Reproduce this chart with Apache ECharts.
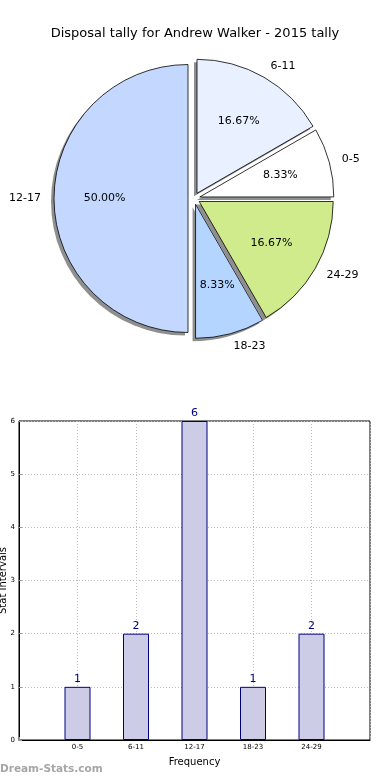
<!DOCTYPE html>
<html>
<head>
<meta charset="utf-8">
<script src="https://cdn.jsdelivr.net/npm/echarts@6/dist/echarts.min.js"></script>
<style>
html,body{margin:0;padding:0;background:#fff;}
#c{width:390px;height:780px;}
</style>
</head>
<body>
<div id="c"></div>
<script>
const titleText = 'Disposal tally for Andrew Walker - 2015 tally';
const categories = ['0-5', '6-11', '12-17', '18-23', '24-29'];
const counts = [1, 2, 6, 1, 2];
const sliceColors = ['#ffffff', '#e9f0ff', '#c4d8ff', '#b3d5ff', '#cfeb8c'];
const yTicks = [0, 1, 2, 3, 4, 5, 6];

const FONT = 'DejaVu Sans';
const R = 134;
const CX = 194, CY = 198.5;
const total = counts.reduce((a, b) => a + b, 0);

const pieData = categories.map((c, i) => ({
  name: c, value: counts[i], selected: true,
  itemStyle: { color: sliceColors[i] }
}));
const plainData = categories.map((c, i) => ({
  name: c, value: counts[i], selected: true
}));

// padded category axis so that categories sit at integer positions 0..4 inside xlim [-1, 5]
const xAxisData = [''].concat(categories, ['']);
const barData = [null].concat(counts, [null]);

const pieCommon = {
  startAngle: 0, clockwise: false,
  selectedMode: 'multiple', selectedOffset: 6,
  avoidLabelOverlap: false,
  emphasis: { disabled: true }
};

const chart = echarts.init(document.getElementById('c'), null, { renderer: 'canvas' });
chart.setOption({
  animation: false,
  backgroundColor: '#fff',
  textStyle: { fontFamily: FONT },
  title: {
    text: titleText, left: 'center', top: 22,
    textStyle: { fontFamily: FONT, fontSize: 13, fontWeight: 'normal', color: '#000' }
  },
  graphic: [{
    type: 'text', left: 0, top: 764,
    style: { text: 'Dream-Stats.com', fill: '#a6a6a6', font: 'bold 10.5px "DejaVu Sans"' }
  }],
  grid: {
    left: 19, right: 20, top: 421, bottom: 40,
    containLabel: false, outerBoundsMode: 'none',
    show: true, borderColor: '#000', borderWidth: 1
  },
  xAxis: {
    type: 'category', data: xAxisData, boundaryGap: false,
    name: 'Frequency', nameLocation: 'middle', nameGap: 17, nameMoveOverlap: false,
    nameTextStyle: { fontFamily: FONT, fontSize: 10, color: '#000' },
    axisLine: { lineStyle: { color: '#000' } },
    axisTick: { inside: true, length: 3, lineStyle: { color: '#999' } },
    axisLabel: { fontFamily: FONT, fontSize: 7, color: '#000', margin: 4, interval: 0 },
    splitLine: { show: true, lineStyle: { color: '#bbb', type: [1, 2] } }
  },
  yAxis: {
    type: 'value', min: yTicks[0], max: yTicks[yTicks.length - 1], interval: 1,
    name: 'Stat Intervals', nameLocation: 'middle', nameGap: 11, nameRotate: 90,
    nameMoveOverlap: false,
    nameTextStyle: { fontFamily: FONT, fontSize: 10, color: '#000' },
    axisLine: { show: true, lineStyle: { color: '#000' } },
    axisTick: { show: true, inside: true, length: 3, lineStyle: { color: '#999' } },
    axisLabel: { fontFamily: FONT, fontSize: 7, color: '#000', margin: 4 },
    splitLine: { show: true, lineStyle: { color: '#bbb', type: [1, 2] } }
  },
  series: [
    Object.assign({}, pieCommon, {
      type: 'pie', z: 1, silent: true,
      center: [CX - 3, CY + 3], radius: R,
      itemStyle: { color: '#8f8f8f', borderWidth: 0 },
      label: { show: false }, labelLine: { show: false },
      data: plainData
    }),
    Object.assign({}, pieCommon, {
      type: 'pie', z: 2,
      center: [CX, CY], radius: R,
      itemStyle: { borderColor: '#000', borderWidth: 0.8 },
      label: {
        show: true, position: 'outside', formatter: '{b}',
        fontFamily: FONT, fontSize: 11, color: '#000', distanceToLabelLine: 0
      },
      labelLine: { show: false, length: 13, length2: 0 },
      data: pieData
    }),
    Object.assign({}, pieCommon, {
      type: 'pie', z: 3, silent: true,
      center: [CX, CY], radius: R * 1.2,
      itemStyle: { color: 'rgba(0,0,0,0)', borderWidth: 0 },
      label: {
        show: true, position: 'inside',
        formatter: p => (p.value / total * 100).toFixed(2) + '%',
        fontFamily: FONT, fontSize: 11, color: '#000'
      },
      labelLine: { show: false },
      data: plainData
    }),
    {
      type: 'bar', data: barData, barWidth: 26,
      itemStyle: { color: '#ccccE6', borderColor: '#000080', borderWidth: 1 },
      label: {
        show: true, position: 'top', distance: 2,
        fontFamily: FONT, fontSize: 11, color: '#000080'
      },
      emphasis: { disabled: true }
    }
  ]
});
</script>
</body>
</html>
